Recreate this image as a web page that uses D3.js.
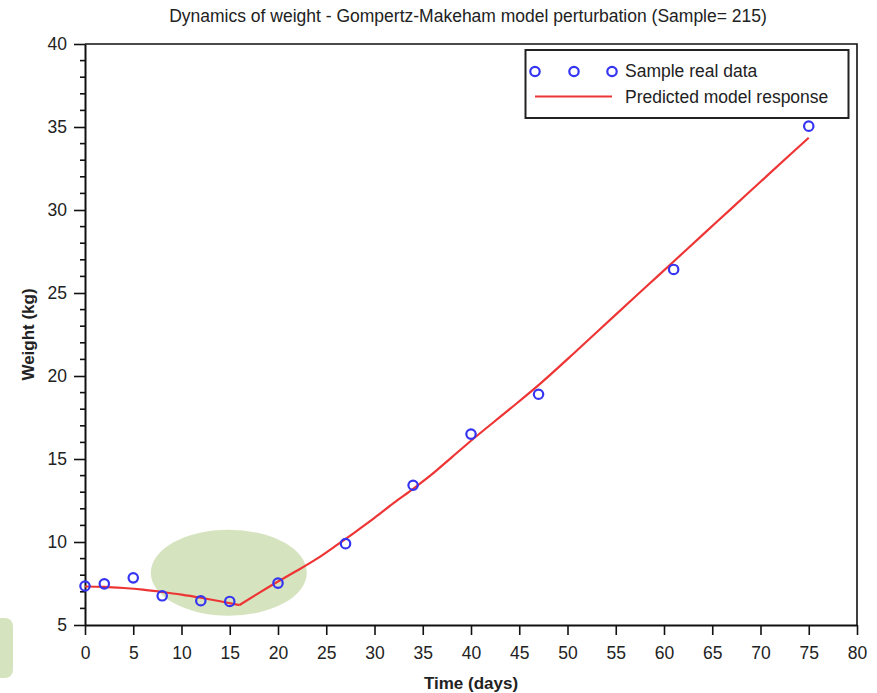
<!DOCTYPE html>
<html>
<head>
<meta charset="utf-8">
<script src="https://cdn.jsdelivr.net/npm/d3@7"></script>
<style>
  html, body { margin: 0; padding: 0; background: #fff; }
  svg { display: block; }
  text { font-family: "Liberation Sans", Arial, Helvetica, sans-serif; fill: #222; }
</style>
</head>
<body>
<svg id="chart" width="877" height="693"></svg>
<script>
// Observed sample weights
const sampleDays   = [0, 2, 5, 8, 12, 15, 20, 27, 34, 40, 47, 61, 75];
const sampleWeight = [7.35, 7.48, 7.84, 6.76, 6.46, 6.42, 7.52, 9.9, 13.42, 16.5, 18.9, 26.42, 35.05];

// Gompertz-Makeham model response, before and after the perturbation at day 16
const modelDaysBefore   = [0, 2, 4, 6, 8, 10, 12, 14, 16];
const modelWeightBefore = [7.32, 7.3, 7.23, 7.13, 6.99, 6.83, 6.64, 6.43, 6.2];
const modelDaysAfter   = [16, 18, 20, 22, 24, 26, 28, 30, 32, 34, 36, 38, 40, 44, 47, 51, 55, 58, 61, 64, 67, 70, 73, 75];
const modelWeightAfter = [6.2, 6.92, 7.62, 8.28, 8.98, 9.78, 10.6, 11.45, 12.35, 13.2, 14.1, 15.1, 16.1, 18.0, 19.45, 21.55, 23.7, 25.3, 26.9, 28.5, 30.1, 31.7, 33.3, 34.35];

// Axis ticks
const xTicks = d3.range(0, 81, 5);
const yTicks = d3.range(5, 41, 5);
const yMinorTicks = d3.range(5, 41, 1).filter(v => v % 5 !== 0);

const titleText = "Dynamics of weight - Gompertz-Makeham model perturbation (Sample= 215)";
const xLabel = "Time (days)";
const yLabel = "Weight (kg)";
const legendLabels = ["Sample real data", "Predicted model response"];

const blue = "#3434f2";
const red = "#ee3535";
const green = "#d6e3bf";

const svg = d3.select("#chart");
const x = d3.scaleLinear().domain([0, 80]).range([85, 857]);
const y = d3.scaleLinear().domain([5, 40]).range([625, 44]);

// Highlight shapes
svg.append("rect")
  .attr("x", -10).attr("y", 618).attr("width", 23).attr("height", 60)
  .attr("rx", 8).attr("fill", green);

svg.append("ellipse")
  .attr("cx", x(14.9)).attr("cy", y(8.15))
  .attr("rx", 78).attr("ry", 43)
  .attr("fill", green);

// Frame (top and right)
svg.append("path")
  .attr("d", `M${x(0)},${y(40)}H${x(80)}V${y(5)}`)
  .attr("fill", "none").attr("stroke", "#111").attr("stroke-width", 1.6);

// X axis
const xAxis = svg.append("g")
  .attr("transform", `translate(0,${y(5)})`)
  .call(d3.axisBottom(x).tickValues(xTicks).tickSize(10).tickPadding(12).tickSizeOuter(0));
xAxis.select(".domain").attr("stroke", "#111").attr("stroke-width", 2);
xAxis.selectAll(".tick line").attr("stroke", "#111").attr("stroke-width", 1.6);
xAxis.selectAll(".tick text")
  .attr("font-size", 17.5).attr("fill", "#222")
  .style("font-family", "'Liberation Sans', Arial, sans-serif");

// Y axis
const yAxis = svg.append("g")
  .attr("transform", `translate(${x(0)},0)`)
  .call(d3.axisLeft(y).tickValues(yTicks).tickSize(11).tickPadding(7).tickSizeOuter(0));
yAxis.select(".domain").attr("stroke", "#111").attr("stroke-width", 2);
yAxis.selectAll(".tick line").attr("stroke", "#111").attr("stroke-width", 1.6);
yAxis.selectAll(".tick text")
  .attr("font-size", 17.5).attr("fill", "#222")
  .style("font-family", "'Liberation Sans', Arial, sans-serif");

// Y minor ticks
svg.append("g").selectAll("line")
  .data(yMinorTicks).join("line")
  .attr("x1", x(0) - 5).attr("x2", x(0))
  .attr("y1", d => y(d)).attr("y2", d => y(d))
  .attr("stroke", "#111").attr("stroke-width", 1.6);

// Model curve: two smooth pieces meeting at the perturbation point
const line = d3.line().x(d => x(d[0])).y(d => y(d[1])).curve(d3.curveMonotoneX);
const pieces = [
  modelDaysBefore.map((d, i) => [d, modelWeightBefore[i]]),
  modelDaysAfter.map((d, i) => [d, modelWeightAfter[i]])
];
svg.append("path")
  .attr("d", pieces.map(p => line(p)).join(""))
  .attr("fill", "none").attr("stroke", red).attr("stroke-width", 2.2)
  .attr("stroke-linejoin", "round");

// Sample points
const samples = sampleDays.map((d, i) => [d, sampleWeight[i]]);
svg.append("g").selectAll("circle")
  .data(samples).join("circle")
  .attr("cx", d => x(d[0])).attr("cy", d => y(d[1]))
  .attr("r", 4.7)
  .attr("fill", "none").attr("stroke", blue).attr("stroke-width", 2.2);

// Title
svg.append("text")
  .attr("x", 468).attr("y", 22)
  .attr("text-anchor", "middle")
  .attr("font-size", 17.5)
  .text(titleText);

// Axis labels
svg.append("text")
  .attr("x", x(40)).attr("y", 689)
  .attr("text-anchor", "middle")
  .attr("font-size", 17).attr("font-weight", "bold")
  .text(xLabel);

svg.append("text")
  .attr("transform", `translate(34,${(y(5) + y(40)) / 2}) rotate(-90)`)
  .attr("text-anchor", "middle")
  .attr("font-size", 17).attr("font-weight", "bold")
  .text(yLabel);

// Legend
const legend = svg.append("g");
legend.append("rect")
  .attr("x", 525.5).attr("y", 50).attr("width", 323).attr("height", 68)
  .attr("fill", "#fff").attr("stroke", "#222").attr("stroke-width", 2);

legend.selectAll("circle")
  .data([535, 574, 612]).join("circle")
  .attr("cx", d => d).attr("cy", 71.5).attr("r", 4.7)
  .attr("fill", "none").attr("stroke", blue).attr("stroke-width", 2.2);

legend.append("line")
  .attr("x1", 535).attr("x2", 612).attr("y1", 96.5).attr("y2", 96.5)
  .attr("stroke", red).attr("stroke-width", 2.2);

legend.selectAll("text")
  .data(legendLabels).join("text")
  .attr("x", 625).attr("y", (d, i) => 77 + i * 26)
  .attr("font-size", 17.5)
  .text(d => d);
</script>
</body>
</html>
